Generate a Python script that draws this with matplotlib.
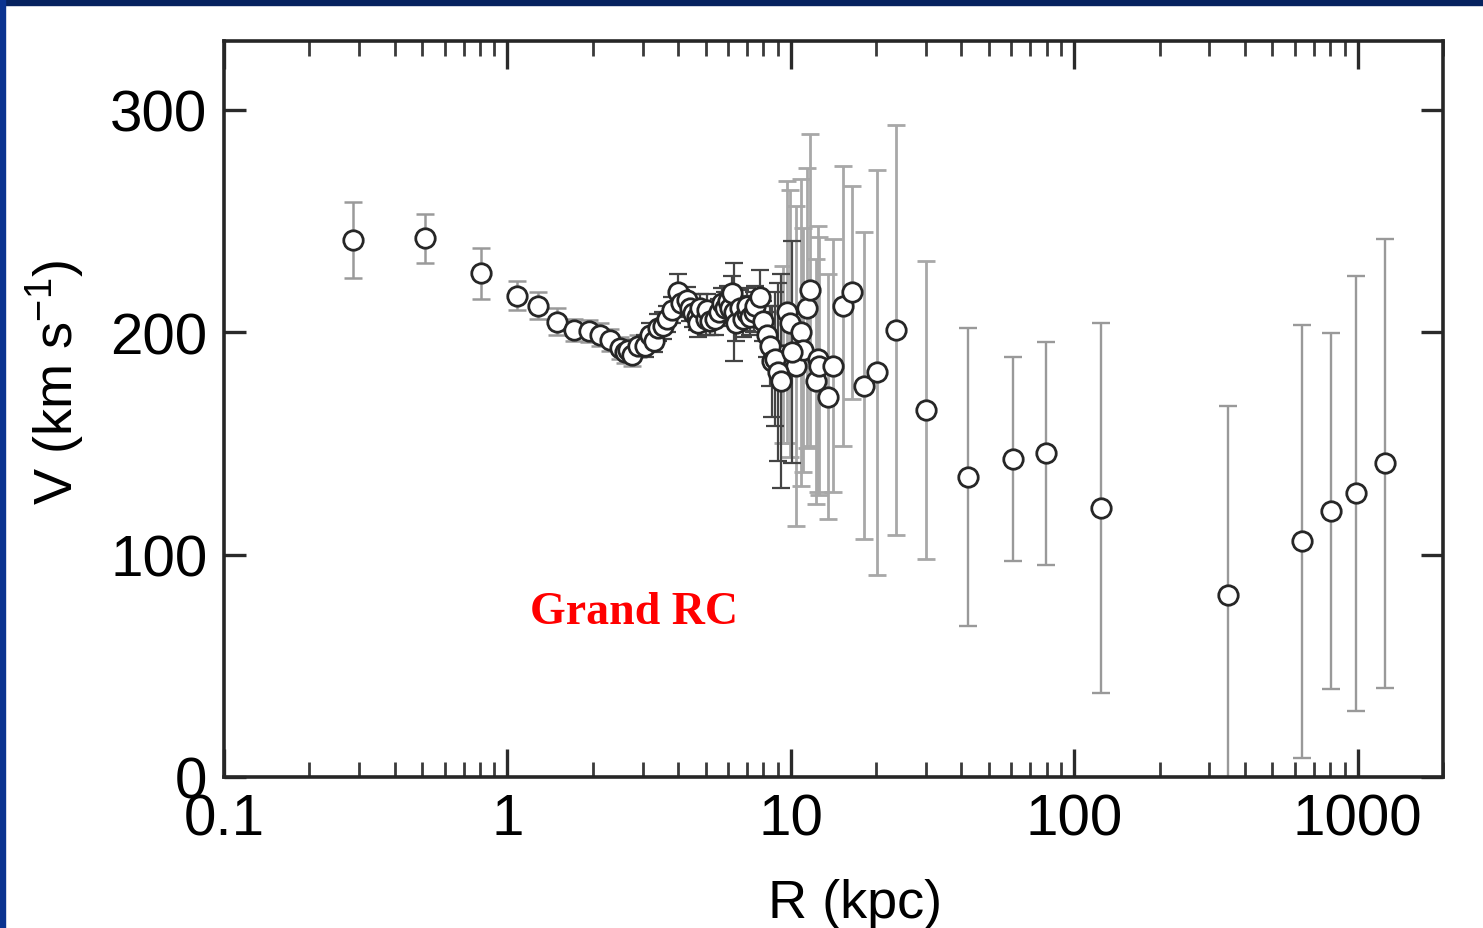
import matplotlib
matplotlib.use('Agg')
import matplotlib.pyplot as plt
from matplotlib import font_manager
from matplotlib.patches import Rectangle
from matplotlib.ticker import FixedLocator, FuncFormatter, LogLocator, NullFormatter


def pick_font(names):
    for n in names:
        try:
            font_manager.findfont(n, fallback_to_default=False)
            return n
        except Exception:
            pass
    return 'DejaVu Sans'


SANS = pick_font(['Liberation Sans Narrow', 'Liberation Sans', 'DejaVu Sans'])
NARROW = SANS == 'Liberation Sans Narrow'
plt.rcParams['font.family'] = [SANS, 'DejaVu Sans']
plt.rcParams['mathtext.fontset'] = 'custom'
plt.rcParams['mathtext.rm'] = SANS
plt.rcParams['mathtext.it'] = SANS

# bulge / inner disk
r_core = [0.286, 0.513, 0.808, 1.078, 1.286, 1.49, 1.72, 1.94, 2.12, 2.30, 2.50, 2.60,
          2.67, 2.75, 2.90]
v_core = [241.6, 242.3, 226.6, 216.5, 212, 204.8, 201, 200.6, 199, 196.5, 193, 191,
          192, 190, 194]
e_core = [17, 11, 11.5, 6.5, 6, 6, 5, 5, 5, 5, 5, 5, 5, 5, 5]

# disk (dense part)
r_disk = [3.06, 3.19, 3.30, 3.41, 3.55, 3.65, 3.80, 4.01, 4.10, 4.29, 4.40, 4.53, 4.65,
          4.72, 4.80, 5.00, 5.05, 5.20, 5.40, 5.60, 5.70, 5.85, 6.00, 6.10, 6.19, 6.30,
          6.43, 6.60, 6.80, 6.98, 7.00, 7.20, 7.40, 7.50, 7.77, 8.00, 8.21, 8.43, 8.60,
          8.78, 9.01, 9.25, 10.1]
v_disk = [194, 199, 196, 202, 203, 206, 210, 218, 213, 214.5, 211, 208.5, 207,
          204, 211, 206, 210, 205, 206, 209, 213, 211, 214, 211, 217.5, 209,
          204, 211, 206, 208.5, 212, 207, 209, 212, 216, 205, 199, 194, 187,
          188, 182, 178, 191]
e_disk = [5, 5, 5, 6, 6, 6, 6, 8, 6, 6, 6, 6, 6,
          6, 6, 7, 7, 6, 7, 6, 7, 7, 7, 7, 8, 22,
          8, 8, 8, 8, 8, 8, 9, 9, 12, 9, 10, 18, 25,
          30, 40, 48, 50]

# outer disk with large errors
r_halo = [9.4, 9.7, 9.96, 10.4, 10.9, 11.0, 11.4, 11.7, 12.3, 12.5, 12.6, 13.5, 14.1,
          15.3, 16.4, 18.1, 20.1, 23.5, 30.1]
v_halo = [190, 209, 204, 185, 200, 192, 211, 219, 178, 188, 185, 171, 185,
          212, 218, 176, 182, 201, 165]
e_halo = [40, 59, 60, 72, 69, 55, 63, 70, 55, 60, 58, 55, 57,
          63, 48, 69, 91, 92, 67]

# halo
r_outer = [42.3, 60.9, 79.8, 124, 349, 637, 807, 989, 1250]
v_outer = [135, 143, 145.5, 121, 82, 106, 119.5, 127.5, 141]
e_outer = [67, 46, 50, 83, 85, 97.5, 80, 98, 101]

fig = plt.figure(figsize=(14.83, 9.29), dpi=100)
ax = fig.add_axes([224 / 1483, 1 - 778 / 929, 1219 / 1483, 736 / 929])

# slide frame
fig.patches.append(Rectangle((0, 1 - 6 / 929), 1, 6 / 929, transform=fig.transFigure,
                             color='#06225f', zorder=0))
fig.patches.append(Rectangle((0, 0), 5 / 1483, 1, transform=fig.transFigure,
                             color='#0a3390', zorder=0))

groups = [
    (r_core, v_core, e_core, '#9a9a9a', 1.8),
    (r_halo, v_halo, e_halo, '#a8a8a8', 2.0),
    (r_disk, v_disk, e_disk, '#444444', 1.6),
    (r_outer, v_outer, e_outer, '#999999', 1.7),
]
for r, v, e, c, lw in groups:
    ax.errorbar(r, v, yerr=e, fmt='none', ecolor=c, elinewidth=lw,
                capsize=6.5, capthick=lw, zorder=2)
for r, v, e, c, lw in groups:
    ax.plot(r, v, 'o', ms=14, mfc='white', mec='#262626', mew=2.0, zorder=3)

ax.text(2.8, 74, 'Grand RC', color='red', fontsize=33, fontweight='bold',
        family=['Liberation Serif', 'DejaVu Serif'], ha='center', va='center')

ax.set_xscale('log')
ax.set_xlim(0.1, 2000)
ax.set_ylim(0, 331)

ax.xaxis.set_major_locator(FixedLocator([0.1, 1, 10, 100, 1000]))
ax.xaxis.set_major_formatter(FuncFormatter(lambda x, p: '%g' % x))
ax.xaxis.set_minor_locator(LogLocator(base=10, subs=range(2, 10), numticks=20))
ax.xaxis.set_minor_formatter(NullFormatter())
ax.set_yticks([0, 100, 200, 300])

tick_size = 46 if NARROW else 42
label_size = 44 if NARROW else 39
ax.tick_params(axis='x', which='major', direction='in', top=True, length=20, width=2.4,
               color='#2a2a2a', labelsize=tick_size, pad=11)
ax.tick_params(axis='x', which='minor', direction='in', top=True, length=10.5, width=2.0,
               color='#3a3a3a')
ax.tick_params(axis='y', which='major', direction='in', right=True, length=16, width=2.4,
               color='#2a2a2a', labelsize=tick_size, pad=12)

for s in ax.spines.values():
    s.set_linewidth(2.6)
    s.set_color('#262626')

ax.set_xlabel('R (kpc)', fontsize=label_size)
ax.set_ylabel('V (km s$^{-1}$)', fontsize=label_size)
ax.xaxis.set_label_coords(0.518, -0.137)
ax.yaxis.set_label_coords(-0.112, 0.537)

fig.savefig('out.png', dpi=100)
